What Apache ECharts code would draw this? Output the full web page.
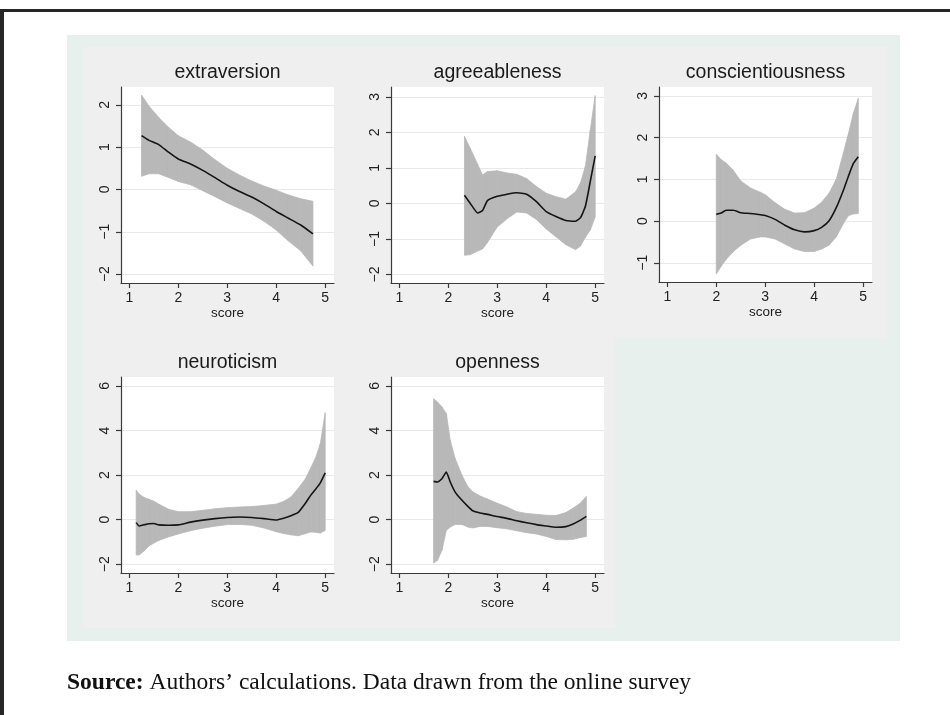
<!DOCTYPE html>
<html><head><meta charset="utf-8">
<script src="https://cdn.jsdelivr.net/npm/echarts@6/dist/echarts.min.js"></script>
<style>html,body{margin:0;padding:0;background:#fff}#c{width:950px;height:715px}</style>
</head><body><div id="c"></div><script>
// ---------- data ----------
const panelTitles = ['extraversion', 'agreeableness', 'conscientiousness', 'neuroticism', 'openness'];
const xTicks = [1, 2, 3, 4, 5];
const xName = 'score';
const sourceLabel = 'Source:';
const sourceText = 'Authors’ calculations. Data drawn from the online survey';

const extraX     = [1.25, 1.4, 1.6, 1.8, 2.0, 2.25, 2.5, 2.75, 3.0, 3.25, 3.5, 3.75, 4.0, 4.25, 4.5, 4.75];
const extraMean  = [1.27, 1.16, 1.06, 0.88, 0.72, 0.60, 0.45, 0.28, 0.10, -0.05, -0.18, -0.34, -0.52, -0.68, -0.84, -1.05];
const extraUpper = [2.23, 1.97, 1.70, 1.47, 1.27, 1.12, 0.93, 0.70, 0.50, 0.34, 0.20, 0.08, -0.02, -0.13, -0.22, -0.28];
const extraLower = [0.31, 0.37, 0.37, 0.28, 0.19, 0.11, -0.03, -0.17, -0.32, -0.45, -0.58, -0.75, -0.96, -1.22, -1.45, -1.81];

const agreeX     = [2.33, 2.45, 2.6, 2.7, 2.8, 3.0, 3.2, 3.4, 3.6, 3.8, 4.0, 4.2, 4.4, 4.6, 4.7, 4.8, 4.9, 5.0];
const agreeMean  = [0.23, 0.0, -0.27, -0.20, 0.08, 0.20, 0.26, 0.30, 0.26, 0.05, -0.23, -0.37, -0.48, -0.50, -0.40, -0.08, 0.62, 1.34];
const agreeUpper = [1.89, 1.55, 1.10, 0.80, 0.90, 0.92, 0.86, 0.82, 0.70, 0.48, 0.29, 0.19, 0.12, 0.33, 0.58, 1.05, 2.06, 3.04];
const agreeLower = [-1.46, -1.44, -1.34, -1.28, -1.10, -0.66, -0.43, -0.24, -0.27, -0.45, -0.72, -0.94, -1.16, -1.30, -1.20, -0.95, -0.75, -0.38];

const conscX     = [2.0, 2.1, 2.2, 2.35, 2.5, 2.7, 2.9, 3.0, 3.2, 3.4, 3.6, 3.8, 4.0, 4.15, 4.3, 4.45, 4.6, 4.7, 4.8, 4.9];
const conscMean  = [0.16, 0.19, 0.26, 0.26, 0.20, 0.18, 0.15, 0.13, 0.04, -0.10, -0.21, -0.26, -0.23, -0.15, 0.0, 0.32, 0.75, 1.08, 1.38, 1.54];
const conscUpper = [1.60, 1.47, 1.39, 1.21, 0.96, 0.79, 0.69, 0.63, 0.44, 0.28, 0.19, 0.20, 0.31, 0.45, 0.66, 1.00, 1.65, 2.10, 2.58, 2.94];
const conscLower = [-1.27, -1.08, -0.92, -0.73, -0.58, -0.43, -0.38, -0.38, -0.43, -0.55, -0.67, -0.73, -0.73, -0.67, -0.58, -0.38, -0.05, 0.13, 0.17, 0.18];

const neuroX     = [1.14, 1.2, 1.3, 1.4, 1.5, 1.6, 1.8, 2.0, 2.25, 2.5, 2.75, 3.0, 3.25, 3.5, 3.75, 4.0, 4.15, 4.3, 4.45, 4.6, 4.7, 4.8, 4.9, 5.0];
const neuroMean  = [-0.13, -0.28, -0.23, -0.18, -0.17, -0.23, -0.25, -0.23, -0.11, -0.02, 0.05, 0.10, 0.12, 0.10, 0.05, -0.01, 0.07, 0.18, 0.33, 0.75, 1.08, 1.35, 1.65, 2.10];
const neuroUpper = [1.33, 1.15, 1.00, 0.92, 0.83, 0.70, 0.47, 0.36, 0.36, 0.42, 0.49, 0.54, 0.57, 0.59, 0.64, 0.70, 0.82, 1.02, 1.40, 1.85, 2.30, 2.75, 3.40, 4.80];
const neuroLower = [-1.58, -1.58, -1.40, -1.18, -1.05, -0.93, -0.77, -0.64, -0.49, -0.38, -0.29, -0.22, -0.21, -0.25, -0.37, -0.54, -0.62, -0.68, -0.72, -0.62, -0.55, -0.56, -0.60, -0.48];

const openX      = [1.7, 1.78, 1.87, 1.96, 2.04, 2.14, 2.28, 2.4, 2.5, 2.65, 2.8, 3.0, 3.2, 3.4, 3.6, 3.8, 4.0, 4.2, 4.4, 4.55, 4.7, 4.82];
const openMean   = [1.72, 1.69, 1.84, 2.14, 1.69, 1.24, 0.87, 0.60, 0.40, 0.30, 0.24, 0.14, 0.06, -0.05, -0.14, -0.22, -0.28, -0.34, -0.31, -0.19, -0.02, 0.15];
const openUpper  = [5.43, 5.28, 5.06, 4.76, 3.56, 2.74, 1.99, 1.48, 1.25, 1.06, 0.93, 0.74, 0.57, 0.36, 0.28, 0.24, 0.20, 0.19, 0.32, 0.52, 0.75, 1.05];
const openLower  = [-1.94, -1.82, -1.37, -0.48, -0.33, -0.21, -0.21, -0.33, -0.37, -0.30, -0.30, -0.36, -0.41, -0.50, -0.58, -0.64, -0.75, -0.89, -0.90, -0.88, -0.80, -0.75];

const yTicksExtra = [-2, -1, 0, 1, 2];
const yTicksAgree = [-2, -1, 0, 1, 2, 3];
const yTicksConsc = [-1, 0, 1, 2, 3];
const yTicksNeuro = [-2, 0, 2, 4, 6];
const yTicksOpen  = [-2, 0, 2, 4, 6];

// ---------- layout ----------
const panels = [
  { title: panelTitles[0], x: extraX, mean: extraMean, lo: extraLower, up: extraUpper, yt: yTicksExtra },
  { title: panelTitles[1], x: agreeX, mean: agreeMean, lo: agreeLower, up: agreeUpper, yt: yTicksAgree },
  { title: panelTitles[2], x: conscX, mean: conscMean, lo: conscLower, up: conscUpper, yt: yTicksConsc },
  { title: panelTitles[3], x: neuroX, mean: neuroMean, lo: neuroLower, up: neuroUpper, yt: yTicksNeuro },
  { title: panelTitles[4], x: openX,  mean: openMean,  lo: openLower,  up: openUpper,  yt: yTicksOpen }
];
const layout = [
  { left: 121, top: 87,  width: 213, height: 196, ymin: -2.21, ymax: 2.42, titleY: 73 },
  { left: 391, top: 87,  width: 213, height: 196, ymin: -2.24, ymax: 3.28, titleY: 73 },
  { left: 659, top: 87,  width: 213, height: 195, ymin: -1.46, ymax: 3.21, titleY: 73 },
  { left: 121, top: 377, width: 213, height: 196, ymin: -2.39, ymax: 6.40, titleY: 363 },
  { left: 391, top: 377, width: 213, height: 196, ymin: -2.39, ymax: 6.40, titleY: 363 }
];
const SANS = 'Liberation Sans, Arial, sans-serif';
const AXC = '#3a3a3a';
const BAND = '#b8b8b8';
const fmt = v => (v < 0 ? '\u2212' + Math.abs(v) : String(v));

function bandItem(params, api) {
  const a = api.coord([api.value(0), api.value(2)]);
  const b = api.coord([api.value(3), api.value(5)]);
  const c = api.coord([api.value(3), api.value(4)]);
  const d = api.coord([api.value(0), api.value(1)]);
  return { type: 'polygon', shape: { points: [a, b, c, d] },
           style: { fill: BAND, stroke: BAND, lineWidth: 0.8 } };
}

const grid = [], xAxis = [], yAxis = [], series = [];
const graphic = [
  { type: 'rect', z: -20, shape: { x: 0, y: 9, width: 950, height: 3 }, style: { fill: '#262626' } },
  { type: 'rect', z: -20, shape: { x: 0, y: 9, width: 4, height: 706 }, style: { fill: '#262626' } },
  { type: 'rect', z: -20, shape: { x: 67, y: 35, width: 833, height: 606 }, style: { fill: '#e8f0ee' } },
  { type: 'rect', z: -19, shape: { x: 83, y: 47, width: 804, height: 291 }, style: { fill: '#efefef' } },
  { type: 'rect', z: -19, shape: { x: 83, y: 338, width: 532, height: 290 }, style: { fill: '#efefef' } },
  { type: 'text', z: 10, style: {
      x: 67, y: 683, verticalAlign: 'middle',
      text: '{b|' + sourceLabel + '} ' + sourceText,
      fontFamily: 'Liberation Serif, Times New Roman, serif', fontSize: 23.5, fill: '#111',
      rich: { b: { fontWeight: 'bold', fontFamily: 'Liberation Serif, Times New Roman, serif', fontSize: 23.5, fill: '#111' } }
  } }
];

panels.forEach((p, i) => {
  const L = layout[i];
  grid.push({ left: L.left, top: L.top, width: L.width, height: L.height, show: true,
              backgroundColor: '#ffffff', borderWidth: 0, containLabel: false });
  xAxis.push({
    type: 'value', gridIndex: i, min: 0.83, max: 5.18,
    name: xName, nameLocation: 'middle', nameGap: 23,
    nameTextStyle: { fontFamily: SANS, fontSize: 13.5, color: '#222' },
    axisLine: { show: true, onZero: false, lineStyle: { color: AXC, width: 1.2 } },
    axisTick: { show: true, length: 5, customValues: xTicks, lineStyle: { color: AXC, width: 1.2 } },
    axisLabel: { customValues: xTicks, margin: 8, fontFamily: SANS, fontSize: 14, color: '#222' },
    splitLine: { show: false }
  });
  yAxis.push({
    type: 'value', gridIndex: i, min: L.ymin, max: L.ymax,
    axisLine: { show: true, onZero: false, lineStyle: { color: AXC, width: 1.2 } },
    axisTick: { show: true, length: 5, customValues: p.yt, lineStyle: { color: AXC, width: 1.2 } },
    axisLabel: { customValues: p.yt, rotate: 90, margin: 9, fontFamily: SANS, fontSize: 14, color: '#222', formatter: fmt },
    splitLine: { show: true, lineStyle: { color: '#e6eaea', width: 1.2 } }
  });
  const bandData = [];
  for (let k = 0; k < p.x.length - 1; k++) {
    bandData.push([p.x[k], p.lo[k], p.up[k], p.x[k + 1], p.lo[k + 1], p.up[k + 1]]);
  }
  const meanData = p.x.map((x, k) => [x, p.mean[k]]);
  series.push({
    type: 'custom', xAxisIndex: i, yAxisIndex: i, data: bandData, renderItem: bandItem,
    encode: { x: [0, 3], y: [1, 2, 4, 5] }, silent: true, z: 2
  });
  series.push({
    type: 'line', xAxisIndex: i, yAxisIndex: i, data: meanData, symbol: 'none', smooth: 0.15,
    silent: true, lineStyle: { color: '#141414', width: 1.6 }, z: 3
  });
  graphic.push({ type: 'text', z: 10, style: {
    x: L.left + L.width / 2, y: L.titleY, align: 'center', verticalAlign: 'middle',
    text: p.title, fontFamily: SANS, fontSize: 19.5, fill: '#1a1a1a' } });
});

const chart = echarts.init(document.getElementById('c'), null, { renderer: 'canvas' });
chart.setOption({ animation: false, backgroundColor: '#ffffff', grid, xAxis, yAxis, series, graphic });
</script></body></html>
